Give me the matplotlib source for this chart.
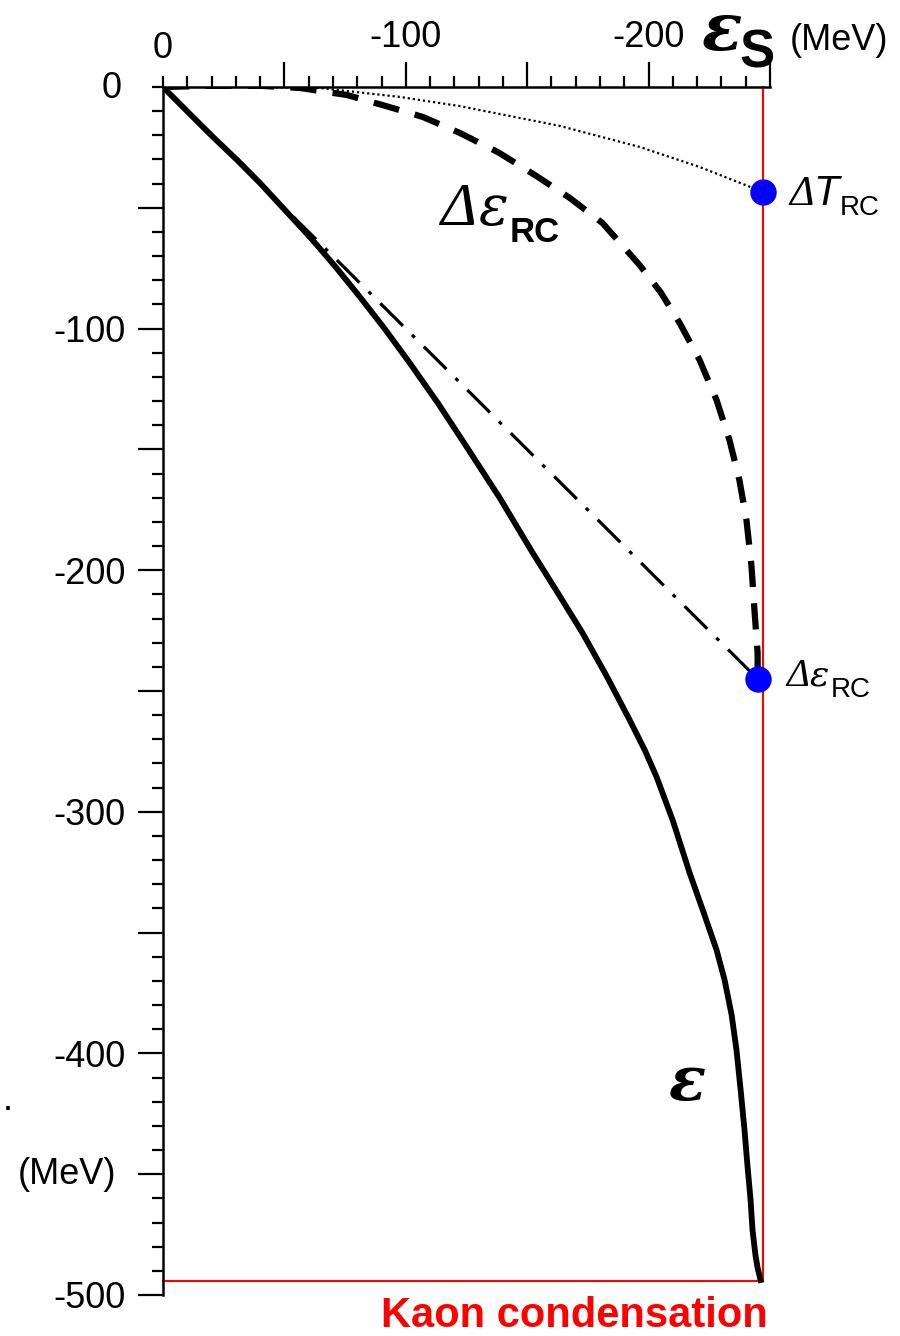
import matplotlib
matplotlib.use("Agg")
import matplotlib.pyplot as plt
from matplotlib.ticker import FixedLocator, FuncFormatter

plt.rcParams['font.family'] = ['Liberation Sans', 'DejaVu Sans']
plt.rcParams['axes.unicode_minus'] = False

# ---------------- data (MeV) ----------------
# total energy shift epsilon (solid)
eps_x = [0, -11.1, -20.6, -30.5, -39.9, -50.2, -60.5, -70.8, -81.1, -91.4,
         -101.6, -113.2, -125.1, -138.7, -152.3, -162.6, -172.8, -182.7, -192.2,
         -198.4, -203.3, -209.9, -216.9, -222.6, -228.0, -231.3, -234.2, -236.2,
         -237.9, -239.5, -240.7, -242.0, -242.8, -244.0, -244.9, -246.1]
eps_y = [0, -11.2, -20.7, -30.2, -39.7, -50.9, -62.1, -74.1, -86.9, -100.2,
         -114.2, -130.8, -149.0, -170.1, -192.9, -209.4, -226.0, -243.8, -262.0,
         -274.4, -285.6, -303.4, -325.3, -341.5, -357.2, -369.6, -384.1, -398.6,
         -415.1, -431.7, -446.2, -460.7, -473.1, -483.4, -488.8, -493.8]

# Delta epsilon_RC (dashed)
drc_x = [0, -20, -40, -56.4, -75.7, -90.5, -107.0, -122.2, -138.0, -153.1, -167.5,
         -181.0, -196.3, -205.0, -212.8, -221.0, -228.0, -233.3, -237.4, -240.3,
         -242.4, -243.6, -244.9, -244.9]
drc_y = [0, 0.5, 0.5, -0.4, -3.3, -7.5, -12.4, -19.0, -27.0, -36.4, -45.9,
         -56.3, -73.7, -85.0, -97.7, -113.0, -129.6, -146.1, -162.7, -179.2,
         -198.7, -216.5, -234.3, -245.0]

# Delta T_RC (dotted)
dt_x = [0, -35.8, -64.6, -97.5, -122.2, -163.4, -196.3, -221.0, -247.3]
dt_y = [0, 0, -0.4, -4.1, -7.9, -16.1, -24.8, -33.1, -43.5]

# straight dash-dot reference line
lin_x = [0, -244.9]
lin_y = [0, -245.0]

# end points (blue dots)
dot_x = [-247.3, -244.9]
dot_y = [-43.5, -245.0]

# kaon condensation boundaries
kc_x = -247.0
kc_y = -494.0

x_major = [-50, -100, -150, -200, -250]
x_minor = [v for v in range(0, -251, -10) if v not in x_major]
y_major = [-50, -100, -150, -200, -250, -300, -350, -400, -450, -500]
y_minor = [v for v in range(0, -501, -10) if v not in y_major]

# ---------------- figure ----------------
W, H = 900, 1336
fig = plt.figure(figsize=(W / 100, H / 100), dpi=100)
L, R, T, B = 163, 770, 87, 1295
ax = fig.add_axes([L / W, 1 - B / H, (R - L) / W, (B - T) / H])
ax.set_xlim(0, -250)
ax.set_ylim(-500, 0)

for s in ['right', 'bottom']:
    ax.spines[s].set_visible(False)
for s in ['left', 'top']:
    ax.spines[s].set_linewidth(1.8)

ax.xaxis.tick_top()
ax.xaxis.set_major_locator(FixedLocator(x_major))
ax.xaxis.set_minor_locator(FixedLocator(x_minor))
ax.yaxis.set_major_locator(FixedLocator(y_major))
ax.yaxis.set_minor_locator(FixedLocator(y_minor))
fmt = FuncFormatter(lambda v, p: '%d' % v if int(round(v)) % 100 == 0 else '')
ax.xaxis.set_major_formatter(fmt)
ax.yaxis.set_major_formatter(fmt)
ax.tick_params(which='major', length=18, width=1.6, direction='out', labelsize=26)
ax.tick_params(which='minor', length=8, width=1.6, direction='out')
ax.tick_params(axis='x', which='major', pad=5)
ax.tick_params(axis='y', which='major', pad=9)

# curves
ax.plot(lin_x, lin_y, color='black', lw=2.3, dashes=(10, 4, 1.2, 4),
        dash_capstyle='butt', zorder=3)
ax.plot(dt_x, dt_y, color='black', lw=1.6, linestyle=(0, (1, 1.3)), zorder=3)
ax.plot(drc_x, drc_y, color='black', lw=4.5, dashes=(4.2, 2.6),
        dash_capstyle='butt', zorder=3)
ax.plot(eps_x, eps_y, color='black', lw=4.2, zorder=4, solid_joinstyle='round')

# red boundaries
ax.plot([kc_x, kc_x], [0, kc_y], color='red', lw=1.5, zorder=2, clip_on=False)
ax.plot([0, kc_x], [kc_y, kc_y], color='red', lw=1.5, zorder=2, clip_on=False)

ax.plot(dot_x, dot_y, 'o', color='#0000ff', ms=18, zorder=5, clip_on=False)

# ---------------- texts ----------------
def ft(x, y, s, **kw):
    fig.text(x / W, 1 - y / H, s, **kw)

ft(163, 48, '0', fontsize=26, ha='center', va='center')
ft(122, 88, '0', fontsize=26, ha='right', va='center')
ft(839, 40, '(MeV)', fontsize=26, ha='center', va='center')
ft(67, 1175, '(MeV)', fontsize=26, ha='center', va='center')
ft(8, 1100, '.', fontsize=26, ha='center', va='center')

# epsilon_S axis label
ft(701, 50, '\u03b5', fontsize=48, family='DejaVu Serif', style='italic',
   weight='bold', ha='left', va='baseline')
ft(739, 68, 'S', fontsize=38, weight='bold', ha='left', va='baseline')

# big Delta epsilon_RC label
ft(440, 225, '\u0394', fontsize=44, family='Liberation Serif', style='italic',
   ha='left', va='baseline')
ft(478, 225, '\u03b5', fontsize=40, family='DejaVu Serif', style='italic',
   ha='left', va='baseline')
ft(510, 242, 'RC', fontsize=25, weight='bold', ha='left', va='baseline')

# Delta T_RC
ft(789, 205, '\u0394', fontsize=30, family='Liberation Serif', style='italic',
   ha='left', va='baseline')
ft(813, 205, 'T', fontsize=30, style='italic', ha='left', va='baseline')
ft(840, 215, 'RC', fontsize=20, ha='left', va='baseline')

# Delta eps_RC small
ft(786, 686, '\u0394', fontsize=28, family='Liberation Serif', style='italic',
   ha='left', va='baseline')
ft(810, 686, '\u03b5', fontsize=26, family='DejaVu Serif', style='italic',
   ha='left', va='baseline')
ft(831, 697, 'RC', fontsize=20, ha='left', va='baseline')

# epsilon near curve
ft(668, 1100, '\u03b5', fontsize=44, family='DejaVu Serif', style='italic',
   weight='bold', ha='left', va='baseline')

# Kaon condensation
ft(574, 1327, 'Kaon condensation', fontsize=30, weight='bold', color='red',
   ha='center', va='baseline')

fig.savefig('out.png', dpi=100)
